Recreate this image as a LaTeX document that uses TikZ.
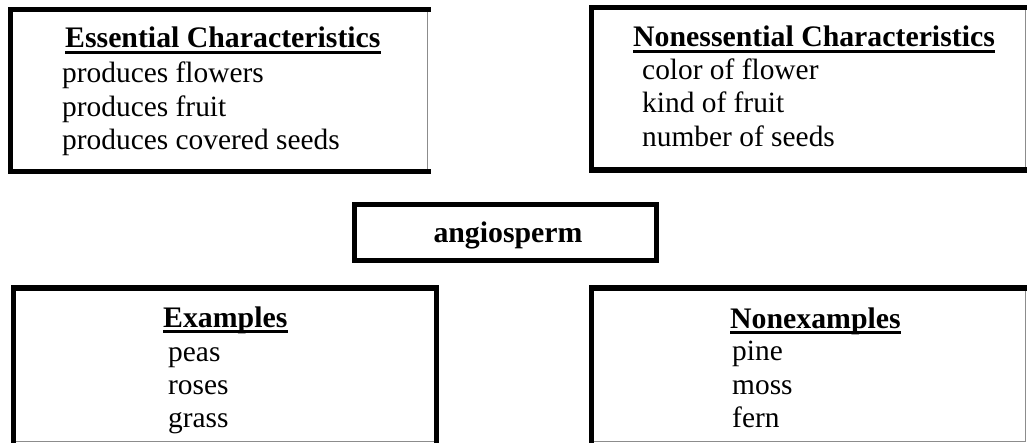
\documentclass[tikz,border=0pt]{standalone}
\usepackage{fontspec}
\setmainfont{Liberation Serif}
\begin{document}
\begin{tikzpicture}[x=1pt,y=-1pt,
  frame/.style={draw=black!45, line width=1pt, anchor=north west, inner sep=0pt},
  thickline/.style={line width=5.5pt, line cap=rect},
  txt/.style={anchor=base west, inner sep=0pt, font=\fontsize{29.4}{33}\selectfont},
  head/.style={txt, font=\fontsize{29.8}{33}\selectfont\bfseries},
  uline/.style={line width=2.6pt}]
\useasboundingbox[fill=white] (0,0) rectangle (1027,443);

% frames
\node[frame, minimum width=416.5pt, minimum height=161pt] (b1) at (10.5,9.5) {};
\node[frame, minimum width=433.5pt, minimum height=161.5pt] (b2) at (591.5,7.5) {};
\node[frame, minimum width=301pt, minimum height=55pt] (b3) at (354.5,204.5) {};
\node[frame, minimum width=422pt, minimum height=153pt] (b4) at (13.5,288) {};
\node[frame, minimum width=433.5pt, minimum height=153pt] (b5) at (591.5,288) {};

% thick borders
\draw[thickline] (b1.north east) -- (b1.north west) -- (b1.south west) -- (b1.south east);
\draw[thickline] (b2.north east) -- (b2.north west) -- (b2.south west) -- (b2.south east);
\draw[thickline] (b3.north west) rectangle (b3.south east);
\draw[thickline] (b4.south west) -- (b4.north west) -- (b4.north east) -- (b4.south east);
\draw[thickline] (b5.south west) -- (b5.north west) -- (b5.north east);

% box 1
\node[head] (h1) at (65,48) {Essential Characteristics};
\draw[uline] ([yshift=-4.5pt]h1.base west) -- ([yshift=-4.5pt]h1.base east);
\node[txt] (e1) at (62,83) {produces flowers};
\node[txt] (e2) at (62,117) {produces fruit};
\node[txt] (e3) at (62,150) {produces covered seeds};

% box 2
\node[head] (h2) at (633,47) {Nonessential Characteristics};
\draw[uline] ([yshift=-4.5pt]h2.base west) -- ([yshift=-4.5pt]h2.base east);
\node[txt] (n1) at (642,80) {color of flower};
\node[txt] (n2) at (642,113) {kind of fruit};
\node[txt] (n3) at (642,147) {number of seeds};

% box 3
\node[head, anchor=base] (a) at (508,243) {angiosperm};

% box 4
\node[head] (h4) at (163,327) {Examples};
\draw[uline] ([yshift=-4.5pt]h4.base west) -- ([yshift=-4.5pt]h4.base east);
\node[txt] (x1) at (168,361) {peas};
\node[txt] (x2) at (168,394) {roses};
\node[txt] (x3) at (168,427) {grass};

% box 5
\node[head] (h5) at (730,328) {Nonexamples};
\draw[uline] ([yshift=-4.5pt]h5.base west) -- ([yshift=-4.5pt]h5.base east);
\node[txt] (y1) at (732,360) {pine};
\node[txt] (y2) at (732,394) {moss};
\node[txt] (y3) at (732,427) {fern};
\end{tikzpicture}
\end{document}
